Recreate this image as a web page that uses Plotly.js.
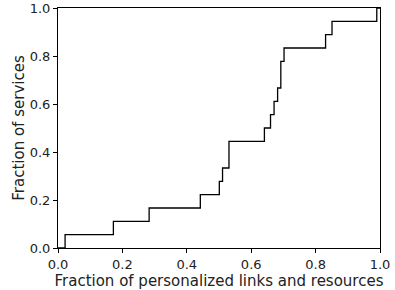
<!DOCTYPE html>
<html><head><meta charset="utf-8">
<script src="https://cdn.plot.ly/plotly-3.0.1.min.js"></script>
<style>html,body{margin:0;padding:0;background:#fff}</style>
</head><body><div id="chart" style="width:395px;height:290px"></div>
<script>
const fractionLinks = [0, 0.022, 0.172, 0.283, 0.442, 0.501, 0.511, 0.531, 0.641, 0.660, 0.671, 0.682, 0.692, 0.702, 0.831, 0.851, 0.990, 1.0];
const fractionServices = [0, 1/18, 2/18, 3/18, 4/18, 5/18, 6/18, 8/18, 9/18, 10/18, 11/18, 12/18, 14/18, 15/18, 16/18, 17/18, 1, 1];
const tickVals = [0, 0.2, 0.4, 0.6, 0.8, 1.0];
const tickText = ["0.0", "0.2", "0.4", "0.6", "0.8", "1.0"];

const axisCommon = {
  range: [0, 1], showgrid: false, zeroline: false, showline: true, mirror: true,
  linecolor: "#000", linewidth: 1, ticks: "outside", ticklen: 4, tickwidth: 1, tickcolor: "#000",
  tickvals: tickVals, ticktext: tickText, tickfont: {family: "DejaVu Sans", size: 13, color: "#222"}
};
Plotly.newPlot("chart", [{
  x: fractionLinks, y: fractionServices, type: "scatter", mode: "lines",
  line: {shape: "hv", color: "#000", width: 1.3}, cliponaxis: false, hoverinfo: "skip"
}], {
  width: 395, height: 290,
  margin: {l: 58, r: 15, t: 8, b: 42},
  paper_bgcolor: "#fff", plot_bgcolor: "#fff", showlegend: false,
  xaxis: Object.assign({}, axisCommon, {ticklabelstandoff: 0, title: {text: "Fraction of personalized links and resources", font: {family: "DejaVu Sans", size: 15, color: "#222"}, standoff: 2}}),
  yaxis: Object.assign({}, axisCommon, {title: {text: "Fraction of services", font: {family: "DejaVu Sans", size: 15, color: "#222"}, standoff: 1}})
}, {staticPlot: true});
</script></body></html>
